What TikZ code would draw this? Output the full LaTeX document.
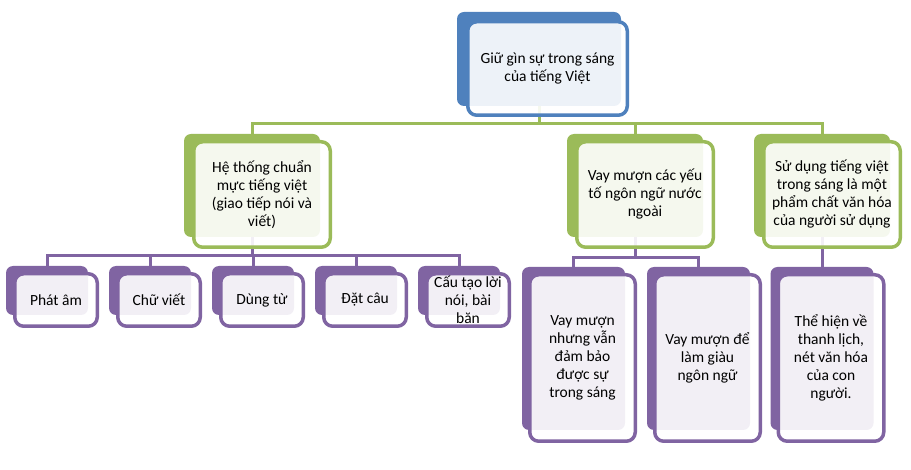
\documentclass[tikz,border=0pt]{standalone}
\usepackage{fontspec}
\setmainfont{Carlito}
\usetikzlibrary{positioning, calc, backgrounds}
\definecolor{topblue}{HTML}{4F81BD}
\definecolor{leafgreen}{HTML}{9BBB59}
\definecolor{leafpurple}{HTML}{8064A2}
\tikzset{
    back_box/.style={rectangle, rounded corners=7pt, inner sep=0pt, outer sep=0pt},
    front_box/.style={rectangle, rounded corners=9pt, line width=3.5pt, fill=white, fill opacity=0.9, text opacity=1, text centered, align=center, inner sep=2pt, font=\fontsize{15.5pt}{18pt}\selectfont},
    lvl_one_back/.style={back_box, fill=topblue, minimum width=164pt, minimum height=94pt},
    lvl_one/.style={front_box, draw=topblue, minimum width=159.5pt, minimum height=93.5pt},
    lvl_two_back/.style={back_box, fill=leafgreen, minimum width=136pt, minimum height=103pt},
    lvl_two/.style={front_box, draw=leafgreen, minimum width=136.5pt, minimum height=105.5pt},
    small_back/.style={back_box, fill=leafpurple, minimum width=82pt, minimum height=49pt},
    small_box/.style={front_box, draw=leafpurple, minimum width=82.5pt, minimum height=52.5pt},
    tall_back/.style={back_box, fill=leafpurple, minimum width=103pt, minimum height=163pt},
    tall_box/.style={front_box, draw=leafpurple, minimum width=105.5pt, minimum height=166.5pt},
    link/.style={line width=3pt},
}

\begin{document}
\begin{tikzpicture}[x=1pt, y=-1pt]
    \useasboundingbox (0,0) rectangle (911,470);
    %%%%%%%%%%%
    % Level 1 %
    %%%%%%%%%%%
    \node (top_b) [lvl_one_back] at (539,59) {};
    \node (top) [lvl_one, below right=8pt and 9pt of top_b.north west]
        {Giữ gìn sự trong sáng\\của tiếng Việt};

    %%%%%%%%%%%
    % Level 2 %
    %%%%%%%%%%%
    \node (norm_b) [lvl_two_back] at (252,185.5) {};
    \node (norm) [lvl_two, below right=6pt and 8pt of norm_b.north west]
        {Hệ thống chuẩn\\mực tiếng việt\\(giao tiếp nói và\\viết)};
    \node (borrow_b) [lvl_two_back] at (635,185.5) {};
    \node (borrow) [lvl_two, below right=6pt and 8pt of borrow_b.north west]
        {Vay mượn các yếu\\tố ngôn ngữ nước\\ngoài};
    \node (culture_b) [lvl_two_back] at (822,185.5) {};
    \node (culture) [lvl_two, below right=6pt and 8pt of culture_b.north west]
        {Sử dụng tiếng việt\\trong sáng là một\\phẩm chất văn hóa\\của người sử dụng};

    %%%%%%%%%%%
    % Level 3 %
    %%%%%%%%%%%
    \node (sound_b) [small_back] at (47,290.5) {};
    \node (sound) [small_box, below right=6pt and 7pt of sound_b.north west]
        {Phát âm};
    \node (script_b) [small_back] at (150,290.5) {};
    \node (script) [small_box, below right=6pt and 7pt of script_b.north west]
        {Chữ viết};
    \node (words_b) [small_back] at (253,290.5) {};
    \node (words) [small_box, below right=6pt and 7pt of words_b.north west]
        {Dùng từ};
    \node (sentence_b) [small_back] at (356,290.5) {};
    \node (sentence) [small_box, below right=6pt and 7pt of sentence_b.north west]
        {Đặt câu};
    \node (speech_b) [small_back] at (459,290.5) {};
    \node (speech) [small_box, below right=6pt and 7pt of speech_b.north west]
        {Cấu tạo lời\\nói, bài\\băn};

    \node (keep_b) [tall_back] at (573.5,348.5) {};
    \node (keep) [tall_box, below right=6pt and 6pt of keep_b.north west]
        {Vay mượn\\nhưng vẫn\\đảm bảo\\được sự\\trong sáng};
    \node (enrich_b) [tall_back] at (698.5,348.5) {};
    \node (enrich) [tall_box, below right=6pt and 6pt of enrich_b.north west]
        {Vay mượn để\\làm giàu\\ngôn ngữ};
    \node (grace_b) [tall_back] at (822,348.5) {};
    \node (grace) [tall_box, below right=6pt and 6pt of grace_b.north west]
        {Thể hiện về\\thanh lịch,\\nét văn hóa\\của con\\người.};

    %%%%%%%%%%%%%
    % Connectors %
    %%%%%%%%%%%%%
    \begin{scope}[on background layer]
        \coordinate (bar_one) at (top_b.south |- 0,124);
        \draw [link, leafgreen] (top_b.south) -- (bar_one) -| (norm_b.north);
        \draw [link, leafgreen] (bar_one) -| (borrow_b.north);
        \draw [link, leafgreen] (bar_one) -| (culture_b.north);

        \coordinate (bar_two) at (norm_b.south |- 0,256);
        \draw [link, leafpurple] (norm_b.south) -- (bar_two) -| (sound_b.north);
        \draw [link, leafpurple] (bar_two) -| (script_b.north);
        \draw [link, leafpurple] (bar_two) -| (words_b.north);
        \draw [link, leafpurple] (bar_two) -| (sentence_b.north);
        \draw [link, leafpurple] (bar_two) -| (speech_b.north);

        \coordinate (bar_three) at (borrow_b.south |- 0,258);
        \draw [link, leafpurple] (borrow_b.south) -- (bar_three) -| (keep_b.north);
        \draw [link, leafpurple] (bar_three) -| (enrich_b.north);

        \draw [link, leafpurple] (culture_b.south) -- (grace_b.north);
    \end{scope}
\end{tikzpicture}
\end{document}
